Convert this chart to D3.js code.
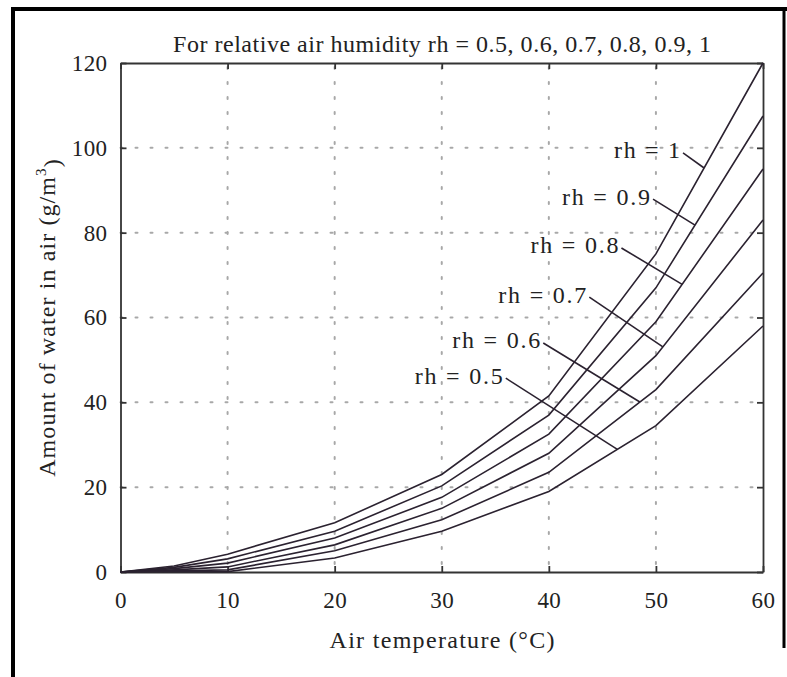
<!DOCTYPE html>
<html>
<head>
<meta charset="utf-8">
<script src="https://cdn.jsdelivr.net/npm/d3@7/dist/d3.min.js"></script>
<style>
  html, body { margin: 0; padding: 0; background: #fff; }
  svg { display: block; }
  text { font-family: "Liberation Serif", "DejaVu Serif", serif; fill: #222; }
</style>
</head>
<body>
<svg id="chart" width="787" height="677"></svg>
<script>
// ---- Data ----
const temperatures = [0, 5, 10, 20, 30, 40, 50, 60];
const seriesNames = ["rh = 1", "rh = 0.9", "rh = 0.8", "rh = 0.7", "rh = 0.6", "rh = 0.5"];
const rh10 = [0, 1.4, 4.2, 11.6, 23.0, 41.5, 75.0, 120.0];
const rh09 = [0, 1.1, 3.1, 9.6, 20.3, 37.0, 67.0, 107.5];
const rh08 = [0, 0.8, 2.1, 8.0, 17.6, 32.5, 59.0, 95.0];
const rh07 = [0, 0.5, 1.2, 6.4, 15.0, 28.0, 51.0, 83.0];
const rh06 = [0, 0.3, 0.5, 5.0, 12.3, 23.5, 43.0, 70.5];
const rh05 = [0, 0.1, 0.1, 3.3, 9.6, 19.0, 34.5, 58.0];
const seriesValues = [rh10, rh09, rh08, rh07, rh06, rh05];
const xTicks = [0, 10, 20, 30, 40, 50, 60];
const yTicks = [0, 20, 40, 60, 80, 100, 120];
// label annotations: text end point (data coords) and temperature where the leader meets the curve
const labelT = [52.25, 49.45, 46.5, 43.5, 39.2, 35.7];
const labelV = [99.5, 88.6, 77.1, 65.5, 54.7, 46.4];
const leaderEndT = [54.5, 53.65, 52.45, 50.65, 48.5, 46.4];

const svg = d3.select("#chart");
const plot = { left: 120.5, right: 763, top: 63, bottom: 572 };

const x = d3.scaleLinear().domain([0, 60]).range([plot.left, plot.right]);
const y = d3.scaleLinear().domain([0, 120]).range([plot.bottom, plot.top]);

// outer frame (scanned page border)
svg.append("line").attr("x1", 13).attr("x2", 13).attr("y1", 7).attr("y2", 677)
  .attr("stroke", "#000").attr("stroke-width", 4);
svg.append("line").attr("x1", 11).attr("x2", 787).attr("y1", 9).attr("y2", 9)
  .attr("stroke", "#000").attr("stroke-width", 4);
svg.append("line").attr("x1", 784).attr("x2", 784).attr("y1", 7).attr("y2", 648)
  .attr("stroke", "#000").attr("stroke-width", 3);

// dotted grid
const grid = svg.append("g").attr("stroke", "#a8a8a8").attr("stroke-width", 2)
  .attr("stroke-dasharray", "2,13").attr("stroke-linecap", "round");
xTicks.slice(1, -1).forEach(t => {
  grid.append("line").attr("x1", x(t)).attr("x2", x(t)).attr("y1", y(0) - 8).attr("y2", y(120));
});
yTicks.slice(1, -1).forEach(t => {
  grid.append("line").attr("x1", x(0)).attr("x2", x(60)).attr("y1", y(t)).attr("y2", y(t));
});

// axes (ticks inward, mirrored)
const tickLen = 6;
const axB = svg.append("g").attr("transform", `translate(0,${plot.bottom})`)
  .call(d3.axisBottom(x).tickValues(xTicks).tickSizeInner(-tickLen).tickSizeOuter(0).tickPadding(20));
const axT = svg.append("g").attr("transform", `translate(0,${plot.top})`)
  .call(d3.axisTop(x).tickValues(xTicks).tickSizeInner(-tickLen).tickSizeOuter(0).tickFormat(""));
const axL = svg.append("g").attr("transform", `translate(${plot.left},0)`)
  .call(d3.axisLeft(y).tickValues(yTicks).tickSizeInner(-tickLen).tickSizeOuter(0).tickPadding(13));
const axR = svg.append("g").attr("transform", `translate(${plot.right},0)`)
  .call(d3.axisRight(y).tickValues(yTicks).tickSizeInner(-tickLen).tickSizeOuter(0).tickFormat(""));
[axB, axT, axL, axR].forEach(a => {
  a.selectAll("path").attr("stroke", "#333").attr("stroke-width", 1.8);
  a.selectAll("line").attr("stroke", "#333").attr("stroke-width", 1.8);
  a.selectAll("text").attr("font-family", "Liberation Serif, serif").attr("font-size", 23)
    .attr("letter-spacing", 0.4).attr("fill", "#2a2a2a");
});

// curves
const line = d3.line().x((d, i) => x(temperatures[i])).y(d => y(d));
svg.append("g").selectAll("path").data(seriesValues).join("path")
  .attr("d", d => line(d)).attr("fill", "none").attr("stroke", "#2b2230").attr("stroke-width", 1.6);

// labels with leader lines
function valueAt(vals, t) {
  const i = d3.bisectRight(temperatures, t) - 1;
  const j = Math.min(i + 1, temperatures.length - 1);
  const f = (t - temperatures[i]) / (temperatures[j] - temperatures[i] || 1);
  return vals[i] + f * (vals[j] - vals[i]);
}
const labels = svg.append("g");
seriesNames.forEach((name, k) => {
  const tx = x(labelT[k]), ty = y(labelV[k]);
  labels.append("text").attr("x", tx).attr("y", ty).attr("dy", "0.35em")
    .attr("text-anchor", "end").attr("font-size", 24)
    .attr("textLength", name.length > 6 ? 88 : 66).attr("lengthAdjust", "spacing").text(name);
  labels.append("line")
    .attr("x1", tx + 3).attr("y1", ty + 3)
    .attr("x2", x(leaderEndT[k])).attr("y2", y(valueAt(seriesValues[k], leaderEndT[k])))
    .attr("stroke", "#2b2230").attr("stroke-width", 1.6);
});

// title and axis titles
svg.append("text").attr("x", 442).attr("y", 52).attr("text-anchor", "middle")
  .attr("font-size", 24).attr("textLength", 538).attr("lengthAdjust", "spacing")
  .text("For relative air humidity rh = 0.5, 0.6, 0.7, 0.8, 0.9, 1");
svg.append("text").attr("x", 442).attr("y", 648).attr("text-anchor", "middle")
  .attr("font-size", 24).attr("textLength", 225).attr("lengthAdjust", "spacing")
  .text("Air temperature (°C)");
const yt = svg.append("text").attr("transform", `translate(55,${(plot.top + plot.bottom) / 2}) rotate(-90)`)
  .attr("text-anchor", "middle").attr("font-size", 24).attr("letter-spacing", 1.1);
yt.append("tspan").text("Amount of water in air (g/m");
yt.append("tspan").attr("font-size", 15).attr("dy", "-0.6em").text("3");
yt.append("tspan").attr("dy", "0.6em").text(")");
</script>
</body>
</html>
